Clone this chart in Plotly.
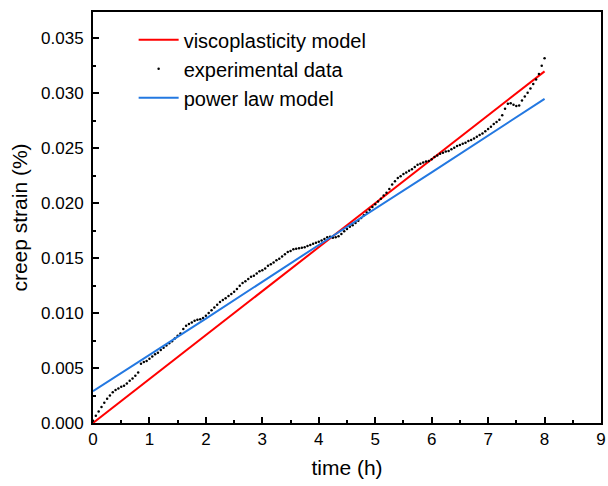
import plotly.graph_objects as go

exp_t = [0.00, 0.05, 0.10, 0.15, 0.20, 0.25, 0.30, 0.35, 0.40, 0.45, 0.50, 0.55, 0.60, 0.65, 0.70, 0.75,
         0.80, 0.85, 0.90, 0.95, 1.00, 1.05, 1.10, 1.15, 1.20, 1.25, 1.30, 1.35, 1.40, 1.45, 1.50, 1.55,
         1.60, 1.65, 1.70, 1.75, 1.80, 1.85, 1.90, 1.95, 2.00, 2.05, 2.10, 2.15, 2.20, 2.25, 2.30, 2.35,
         2.40, 2.45, 2.50, 2.55, 2.60, 2.65, 2.70, 2.75, 2.80, 2.85, 2.90, 2.95, 3.00, 3.05, 3.10, 3.15,
         3.20, 3.25, 3.30, 3.35, 3.40, 3.45, 3.50, 3.55, 3.60, 3.65, 3.70, 3.75, 3.80, 3.85, 3.90, 3.95,
         4.00, 4.05, 4.10, 4.15, 4.20, 4.25, 4.30, 4.35, 4.40, 4.45, 4.50, 4.55, 4.60, 4.65, 4.70, 4.75,
         4.80, 4.85, 4.90, 4.95, 5.00, 5.05, 5.10, 5.15, 5.20, 5.25, 5.30, 5.35, 5.40, 5.45, 5.50, 5.55,
         5.60, 5.65, 5.70, 5.75, 5.80, 5.85, 5.90, 5.95, 6.00, 6.05, 6.10, 6.15, 6.20, 6.25, 6.30, 6.35,
         6.40, 6.45, 6.50, 6.55, 6.60, 6.65, 6.70, 6.75, 6.80, 6.85, 6.90, 6.95, 7.00, 7.05, 7.10, 7.15,
         7.20, 7.25, 7.30, 7.35, 7.40, 7.45, 7.50, 7.55, 7.60, 7.65, 7.70, 7.75, 7.80, 7.85, 7.90, 7.95,
         8.00]
exp_strain_e3 = [0.20, 0.65, 1.05, 1.45, 1.85, 2.20, 2.50, 2.80, 3.00, 3.15, 3.30, 3.40, 3.60, 3.85, 4.05, 4.30,
                 4.60, 5.40, 5.55, 5.65, 5.85, 6.05, 6.25, 6.40, 6.65, 6.85, 7.05, 7.25, 7.45, 7.70, 7.95, 8.15,
                 8.55, 8.85, 9.00, 9.15, 9.30, 9.40, 9.45, 9.55, 9.75, 10.00, 10.25, 10.50, 10.75, 11.00, 11.20, 11.35,
                 11.55, 11.75, 11.95, 12.20, 12.50, 12.75, 12.90, 13.10, 13.30, 13.40, 13.60, 13.80, 13.90, 14.05, 14.30, 14.45,
                 14.60, 14.80, 14.95, 15.15, 15.35, 15.55, 15.65, 15.80, 15.85, 15.90, 15.95, 16.00, 16.10, 16.20, 16.30, 16.40,
                 16.50, 16.60, 16.75, 16.90, 16.95, 16.85, 16.90, 17.00, 17.20, 17.45, 17.65, 17.85, 18.00, 18.20, 18.40, 18.65,
                 18.90, 19.15, 19.40, 19.65, 19.90, 20.15, 20.40, 20.70, 20.95, 21.30, 21.70, 22.00, 22.30, 22.45, 22.65, 22.80,
                 22.95, 23.10, 23.30, 23.50, 23.60, 23.70, 23.80, 23.85, 24.00, 24.20, 24.35, 24.50, 24.60, 24.70, 24.75, 24.90,
                 25.05, 25.20, 25.30, 25.40, 25.50, 25.65, 25.75, 25.90, 26.05, 26.20, 26.35, 26.55, 26.75, 26.95, 27.20, 27.40,
                 27.60, 28.00, 28.60, 29.05, 29.10, 28.95, 28.85, 28.90, 29.35, 29.70, 30.05, 30.45, 30.85, 31.25, 31.75, 32.50,
                 33.20]
exp_strain = [v / 1000 for v in exp_strain_e3]

# model curves
visco_t = [0.0, 8.0]
visco_strain = [0.0, 0.0320]
power_t = [0.0, 2.0, 4.0, 6.0, 8.0]
power_strain = [0.0029, 0.0095, 0.0162, 0.0228, 0.0295]

FONT = "Liberation Sans, Arial"

fig = go.Figure()
fig.add_trace(go.Scatter(x=visco_t, y=visco_strain, mode="lines", name="viscoplasticity model",
                         line=dict(color="rgb(255,0,0)", width=2)))
fig.add_trace(go.Scatter(x=exp_t, y=exp_strain, mode="markers", name="experimental data",
                         marker=dict(color="black", size=2.5)))
fig.add_trace(go.Scatter(x=power_t, y=power_strain, mode="lines", name="power law model",
                         line=dict(color="rgb(35,120,225)", width=2)))

axis_common = dict(
    showgrid=False, zeroline=False, showline=True, linecolor="black", linewidth=2,
    mirror=True, ticks="inside", ticklen=6, tickwidth=1.5, tickcolor="black",
    tickfont=dict(family=FONT, size=17, color="black"),
)

fig.update_xaxes(range=[0, 9], tick0=0, dtick=1, ticklabeloverflow="allow",
                 minor=dict(ticks="inside", ticklen=3, tickwidth=1.5, tickcolor="black", dtick=0.5),
                 title=dict(text="time (h)", font=dict(family=FONT, size=21, color="black"),
                            standoff=12),
                 **axis_common)
fig.update_yaxes(range=[0, 0.0374], tick0=0, dtick=0.005, tickformat=".3f",
                 minor=dict(ticks="inside", ticklen=3, tickwidth=1.5, tickcolor="black", dtick=0.0025),
                 title=dict(text="creep strain (%)", font=dict(family=FONT, size=21, color="black"),
                            standoff=8),
                 ticklabelstandoff=4,
                 **axis_common)

fig.update_layout(
    width=608, height=486,
    margin=dict(l=93, r=2, t=12, b=63),
    paper_bgcolor="white", plot_bgcolor="white",
    font=dict(family=FONT, size=20, color="black"),
    legend=dict(x=0.08, y=0.98, xanchor="left", yanchor="top", bgcolor="rgba(0,0,0,0)",
                font=dict(family=FONT, size=20), itemwidth=40, tracegroupgap=0),
    showlegend=True,
)

fig.write_html("out.html")
